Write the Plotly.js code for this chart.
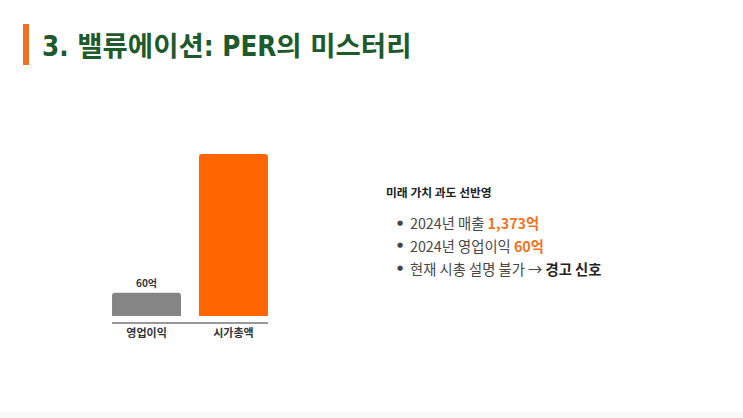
<!DOCTYPE html>
<html>
<head>
<meta charset="utf-8">
<script src="https://cdn.plot.ly/plotly-3.0.1.min.js"></script>
<style>html,body{margin:0;padding:0;background:#fff;}#chart{width:743px;height:418px;}</style>
</head>
<body>
<div id="chart"></div>
<script>
const categories = ["영업이익", "시가총액"];
const values = [60, 420];
const barLabels = ["60억", ""];
const barColors = ["#858585", "#ff6600"];
const titleText = "<b>3.</b> 밸류에이션<b>:</b> <b>PER</b>의 미스터리";
const headerText = "미래 가치 과도 선반영";
const bullets = [
  "2024년 매출 <b><span style='color:#f0731f'>1,373억</span></b>",
  "2024년 영업이익 <b><span style='color:#f0731f'>60억</span></b>",
  "현재 시총 설명 불가 → <b><span style='color:#222'>경고 신호</span></b>"
];

const W = 743, H = 418;
const px = x => x / W;
const py = y => 1 - y / H;

const annotations = [
  {text: titleText, x: px(40), y: py(46), xref: 'paper', yref: 'paper', xanchor: 'left', yanchor: 'middle', showarrow: false,
   font: {family: "'Liberation Sans Narrow', 'DejaVu Sans Condensed', 'Noto Sans CJK KR', sans-serif", size: 27.5, color: '#1d5a2c', weight: 600}},
  {text: '<b>' + headerText + '</b>', x: px(384), y: py(191), xref: 'paper', yref: 'paper', xanchor: 'left', yanchor: 'middle', showarrow: false,
   font: {family: "'Noto Sans CJK KR', sans-serif", size: 11.8, color: '#222'}}
];
const bulletY = [223, 245, 268];
bullets.forEach((b, i) => {
  annotations.push({text: '●', x: px(395), y: py(bulletY[i]), xref: 'paper', yref: 'paper', xanchor: 'left', yanchor: 'middle', showarrow: false,
    font: {family: "'DejaVu Sans', sans-serif", size: 7, color: '#444'}});
  annotations.push({text: b, x: px(408.5), y: py(bulletY[i]), xref: 'paper', yref: 'paper', xanchor: 'left', yanchor: 'middle', showarrow: false,
    font: {family: "'Noto Sans CJK KR', sans-serif", size: 14.3, color: '#484848'}});
});

const data = [{
  type: 'bar', x: categories, y: values, text: barLabels, textposition: 'outside', cliponaxis: false,
  textfont: {family: "'Noto Sans CJK KR', sans-serif", size: 10, color: '#333', weight: 'bold'},
  marker: {color: barColors}, hoverinfo: 'none'
}];

const layout = {
  width: W, height: H, margin: {l: 0, r: 0, t: 0, b: 0},
  paper_bgcolor: '#fff', plot_bgcolor: '#fff', showlegend: false,
  bargap: 0.207, barcornerradius: 3,
  xaxis: {domain: [px(112), px(268)], range: [-0.397, 1.397], showline: true, linecolor: '#999', linewidth: 1.5,
    ticks: '', showgrid: false, zeroline: false, fixedrange: true,
    tickfont: {family: "'Noto Sans CJK KR', sans-serif", size: 11, color: '#333', weight: 'bold'}},
  yaxis: {domain: [py(322), py(154)], range: [-15.5, 420], visible: false, showgrid: false, zeroline: false},
  annotations: annotations,
  shapes: [
    {type: 'rect', xref: 'paper', yref: 'paper', x0: px(23), x1: px(29), y0: py(65), y1: py(24), fillcolor: '#f07020', line: {width: 0}},
    {type: 'rect', xref: 'paper', yref: 'paper', x0: 0, x1: 1, y0: 0, y1: py(412), fillcolor: '#f9f9f9', line: {width: 0}, layer: 'below'}
  ]
};
Plotly.newPlot('chart', data, layout, {staticPlot: true});
</script>
</body>
</html>
